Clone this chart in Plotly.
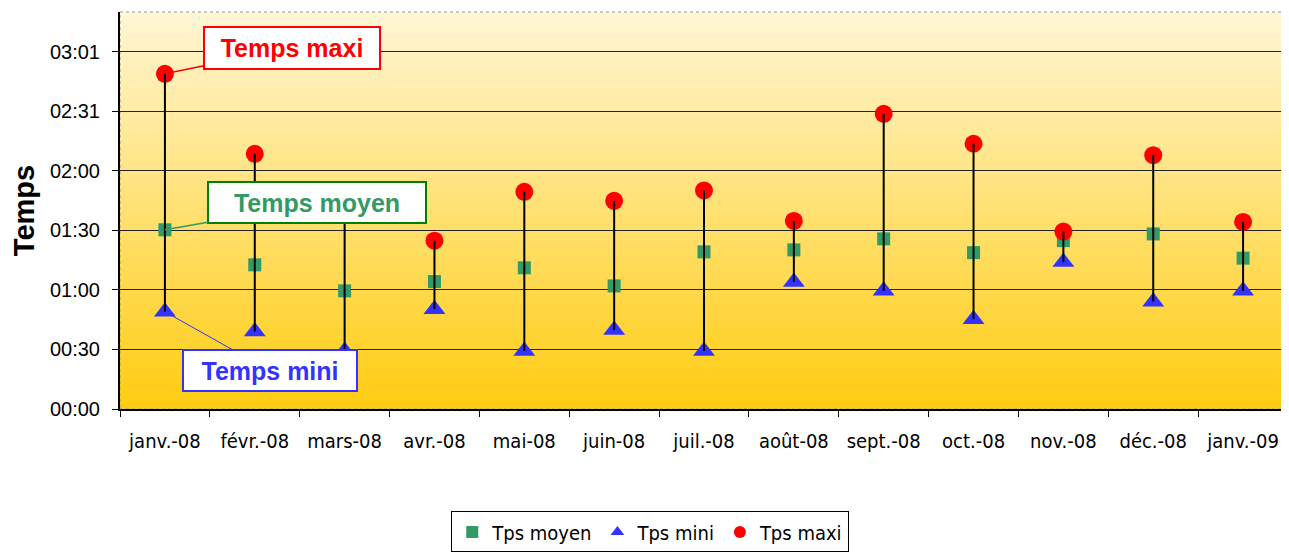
import plotly.graph_objects as go

months = ["janv.-08", "févr.-08", "mars-08", "avr.-08", "mai-08", "juin-08", "juil.-08",
          "août-08", "sept.-08", "oct.-08", "nov.-08", "déc.-08", "janv.-09"]
# values in minutes
tps_moyen = [91.0, 73.2, 60.0, 64.7, 71.7, 62.5, 79.8, 80.8, 86.4, 79.4, 85.5, 88.9, 76.6]
tps_mini = [49.4, 39.3, 29.5, 50.7, 29.5, 40.1, 29.5, 64.5, 60.0, 45.6, 74.6, 54.5, 60.0]
tps_maxi = [170.2, 129.6, 110.0, 85.5, 110.3, 105.7, 111.0, 95.5, 149.9, 134.7, 90.1, 128.9, 95.0]

tick_minutes = [0, 30.24, 60.48, 90.72, 120.96, 151.2, 181.44]
tick_labels = ["00:00", "00:30", "01:00", "01:30", "02:00", "02:31", "03:01"]
y_max = 201.6

NARROW = "Liberation Sans Narrow, Arial Narrow, DejaVu Sans Condensed, Liberation Sans, Arial"
ARIAL = "Liberation Sans, Arial"

fig = go.Figure()
fig.add_trace(go.Scatter(x=months, y=tps_moyen, mode="markers", name="Tps moyen",
                         marker=dict(symbol="square", size=13, color="#339966")))
fig.add_trace(go.Scatter(x=months, y=tps_mini, mode="markers", name="Tps mini",
                         marker=dict(symbol="triangle-up", size=19, color="#3333FF")))
fig.add_trace(go.Scatter(x=months, y=tps_maxi, mode="markers", name="Tps maxi",
                         marker=dict(symbol="circle", size=18, color="#FF0000")))

# high-low lines
hx, hy = [], []
for m, lo, hi in zip(months, tps_mini, tps_maxi):
    hx += [m, m, None]
    hy += [lo, hi, None]
fig.add_trace(go.Scatter(x=hx, y=hy, mode="lines", line=dict(color="black", width=2),
                         showlegend=False, hoverinfo="skip"))

# gradient background bands
shapes = []
n = 80
top = (255, 246, 214)
bot = (255, 204, 17)
for i in range(n):
    t = (i + 0.5) / n
    c = tuple(round(top[k] + (bot[k] - top[k]) * t) for k in range(3))
    shapes.append(dict(type="rect", xref="x domain", yref="y domain",
                       x0=0, x1=1, y0=max(0, 1 - (i + 1) / n), y1=min(1, 1 - i / n + 0.002),
                       fillcolor="rgb(%d,%d,%d)" % c, line=dict(width=0), layer="below"))
shapes.append(dict(type="rect", xref="x domain", yref="y domain", x0=0, x1=1, y0=0, y1=1,
                   line=dict(color="#999999", width=1, dash="dot"), layer="below"))

annotations = [
    dict(x=months[0], y=tps_maxi[0], text="<b>Temps maxi</b>", ax=127, ay=-26,
         font=dict(family=ARIAL, size=25, color="#FF0000"), bgcolor="white",
         bordercolor="#FF0000", borderwidth=2, width=172, height=38, borderpad=1,
         showarrow=True, arrowhead=0, arrowcolor="#FF0000", arrowwidth=1.5),
    dict(x=months[0], y=tps_moyen[0], text="<b>Temps moyen</b>", ax=152, ay=-27,
         font=dict(family=ARIAL, size=25, color="#339966"), bgcolor="white",
         bordercolor="#008000", borderwidth=2, width=214, height=37, borderpad=1,
         showarrow=True, arrowhead=0, arrowcolor="#339966", arrowwidth=1.5),
    dict(x=months[0], y=tps_mini[0], text="<b>Temps mini</b>", ax=105, ay=59,
         font=dict(family=ARIAL, size=25, color="#3333FF"), bgcolor="white",
         bordercolor="#3333FF", borderwidth=2, width=170, height=37, borderpad=1,
         showarrow=True, arrowhead=0, arrowcolor="#3333FF", arrowwidth=1),
]

fig.update_layout(
    width=1281, height=552,
    margin=dict(l=112, r=1, t=4, b=151),
    paper_bgcolor="white", plot_bgcolor="rgba(0,0,0,0)",
    shapes=shapes, annotations=annotations,
    showlegend=True,
    legend=dict(orientation="h", x=0.454, xanchor="center", y=-0.258, yanchor="top",
                bgcolor="white", bordercolor="black", borderwidth=1,
                font=dict(family=NARROW, size=20, color="black"),
                itemsizing="constant", tracegroupgap=0, itemwidth=30),
    xaxis=dict(type="category", categoryorder="array", categoryarray=months,
               range=[-0.5, len(months) - 0.5],
               tickson="boundaries", ticks="outside", ticklen=6, tickcolor="black",
               showgrid=False, showline=True, linecolor="black", linewidth=2,
               tickfont=dict(family=NARROW, size=20, color="black"),
               ticklabelstandoff=13, automargin=False),
    yaxis=dict(range=[0, y_max], tickvals=tick_minutes, ticktext=tick_labels,
               ticks="outside", ticklen=6, tickcolor="black",
               showgrid=True, gridcolor="#222222", gridwidth=1.3,
               showline=True, linecolor="black", linewidth=2, zeroline=False,
               tickfont=dict(family=ARIAL, size=20, color="black"),
               ticklabelstandoff=8, automargin=False,
               title=dict(text="<b>Temps</b>", font=dict(family=ARIAL, size=29, color="black"),
                          standoff=8)),
)

fig.write_html("out.html")
